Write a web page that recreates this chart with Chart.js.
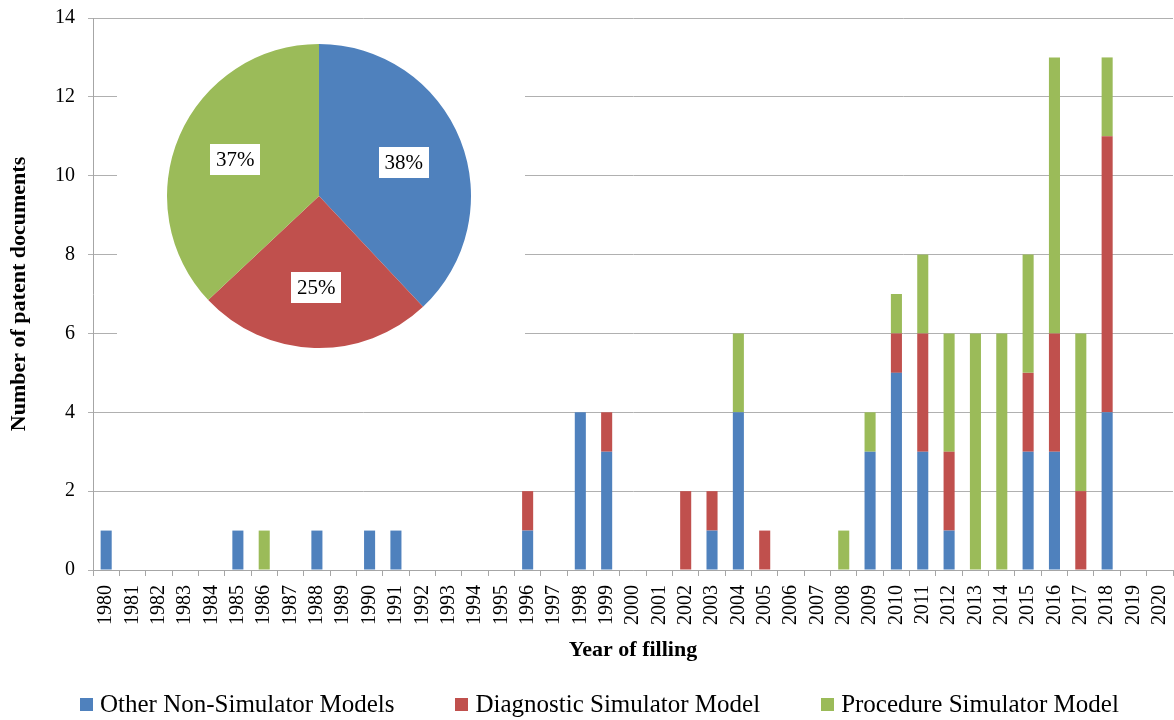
<!DOCTYPE html>
<html>
<head>
<meta charset="utf-8">
<script src="https://cdn.jsdelivr.net/npm/chart.js@4/dist/chart.umd.min.js"></script>
<style>
  html, body { margin: 0; padding: 0; background: #fff; }
  #wrap { position: relative; width: 1174px; height: 720px; font-family: 'Liberation Serif', 'Times New Roman', serif; }
  #bars { position: absolute; left: 0; top: 0; }
  #inset { position: absolute; left: 117px; top: 25px; width: 408px; height: 330px; background: #fff; }
  #pie { position: absolute; left: 42px; top: 11px; }
  #legend { position: absolute; left: 80px; top: 688px; display: flex; gap: 61px; white-space: nowrap; }
  #legend .item { display: flex; align-items: center; font-size: 25px; line-height: 32px; color: #000; }
  #legend .swatch { width: 13px; height: 13px; margin-right: 7px; display: inline-block; }
</style>
</head>
<body>
<div id="wrap">
  <canvas id="bars" width="1174" height="720"></canvas>
  <div id="inset"><canvas id="pie" width="320" height="320"></canvas></div>
  <div id="legend"></div>
</div>
<script>
// Filing years on the category axis
const years = ['1980','1981','1982','1983','1984','1985','1986','1987','1988','1989',
               '1990','1991','1992','1993','1994','1995','1996','1997','1998','1999',
               '2000','2001','2002','2003','2004','2005','2006','2007','2008','2009',
               '2010','2011','2012','2013','2014','2015','2016','2017','2018','2019','2020'];

// Patent documents per year, by model type
const otherModels      = [1,0,0,0,0, 1,0,0,1,0, 1,1,0,0,0, 0,1,0,4,3, 0,0,0,1,4, 0,0,0,0,3, 5,3,1,0,0, 3,3,0,4,0, 0];
const diagnosticModels = [0,0,0,0,0, 0,0,0,0,0, 0,0,0,0,0, 0,1,0,0,1, 0,0,2,1,0, 1,0,0,0,0, 1,3,2,0,0, 2,3,2,7,0, 0];
const procedureModels  = [0,0,0,0,0, 0,1,0,0,0, 0,0,0,0,0, 0,0,0,0,0, 0,0,0,0,2, 0,0,0,1,1, 1,2,3,6,6, 3,7,4,2,0, 0];

// Share of each model type (percent) for the inset pie
const seriesNames = ['Other Non-Simulator Models', 'Diagnostic Simulator Model', 'Procedure Simulator Model'];
const shares = [38, 25, 37];

// Y axis range
const yMin = 0, yMax = 14, yStep = 2;

const colors = ['#4F81BD', '#C0504D', '#9BBB59'];
const serif = "'Liberation Serif', 'Times New Roman', serif";
const gridGrey = '#b0b0b0';
const axisGrey = '#a6a6a6';

Chart.defaults.font.family = serif;
Chart.defaults.color = '#000';

const barChart = new Chart(document.getElementById('bars'), {
  type: 'bar',
  data: {
    labels: years,
    datasets: [
      { label: seriesNames[0], data: otherModels,      backgroundColor: colors[0] },
      { label: seriesNames[1], data: diagnosticModels, backgroundColor: colors[1] },
      { label: seriesNames[2], data: procedureModels,  backgroundColor: colors[2] }
    ]
  },
  options: {
    responsive: false,
    animation: false,
    layout: { padding: { top: 18, right: 1, left: 0, bottom: 54 } },
    datasets: { bar: { barPercentage: 0.42, categoryPercentage: 1.0, borderWidth: 0 } },
    plugins: {
      tooltip: { enabled: false },
      legend: { display: false }
    },
    scales: {
      x: {
        stacked: true,
        grid: { offset: true, drawOnChartArea: false, tickLength: 6, color: axisGrey },
        border: { color: axisGrey },
        ticks: { autoSkip: false, minRotation: 90, maxRotation: 90, padding: 9, font: { size: 20, family: serif }, color: '#000' },
        title: { display: true, text: 'Year of filling', font: { size: 22, weight: 'bold', family: serif }, color: '#000', padding: { top: 4, bottom: 2 } },
        afterFit: (s) => { s.height = 96; s.paddingLeft = 0; s.paddingRight = 0; }
      },
      y: {
        stacked: true,
        min: yMin,
        max: yMax,
        grid: { color: gridGrey, tickLength: 5 },
        border: { color: axisGrey },
        ticks: { stepSize: yStep, padding: 13, font: { size: 20, family: serif }, color: '#000' },
        title: { display: true, text: 'Number of patent documents', font: { size: 22, weight: 'bold', family: serif }, color: '#000', padding: { top: 6, bottom: 4 } },
        afterFit: (s) => { s.width = 93; s.paddingTop = 0; s.paddingBottom = 0; }
      }
    }
  }
});

// Legend row built from the bar datasets
const legendEl = document.getElementById('legend');
barChart.data.datasets.forEach((ds) => {
  const item = document.createElement('span');
  item.className = 'item';
  const sw = document.createElement('span');
  sw.className = 'swatch';
  sw.style.background = ds.backgroundColor;
  item.appendChild(sw);
  item.appendChild(document.createTextNode(ds.label));
  legendEl.appendChild(item);
});

// Percentage labels inside the pie slices, on white boxes
const sliceLabels = {
  id: 'sliceLabels',
  afterDatasetsDraw(chart) {
    const ctx = chart.ctx;
    const meta = chart.getDatasetMeta(0);
    const values = chart.data.datasets[0].data;
    ctx.save();
    ctx.font = '21px ' + serif;
    ctx.textAlign = 'center';
    ctx.textBaseline = 'middle';
    meta.data.forEach((arc, i) => {
      const p = arc.getProps(['x', 'y', 'startAngle', 'endAngle', 'outerRadius'], true);
      const mid = (p.startAngle + p.endAngle) / 2;
      const r = p.outerRadius * 0.6;
      const cx = p.x + Math.cos(mid) * r;
      const cy = p.y + Math.sin(mid) * r;
      const text = values[i] + '%';
      const w = ctx.measureText(text).width + 12;
      const h = 31;
      ctx.fillStyle = '#fff';
      ctx.fillRect(Math.round(cx - w / 2), Math.round(cy - h / 2), Math.round(w), h);
      ctx.fillStyle = '#000';
      ctx.fillText(text, cx, cy + 1);
    });
    ctx.restore();
  }
};

new Chart(document.getElementById('pie'), {
  type: 'pie',
  data: {
    labels: seriesNames,
    datasets: [{ data: shares, backgroundColor: colors, borderWidth: 0, radius: 152 }]
  },
  options: {
    responsive: false,
    animation: false,
    layout: { padding: 0 },
    plugins: { legend: { display: false }, tooltip: { enabled: false } }
  },
  plugins: [sliceLabels]
});
</script>
</body>
</html>
